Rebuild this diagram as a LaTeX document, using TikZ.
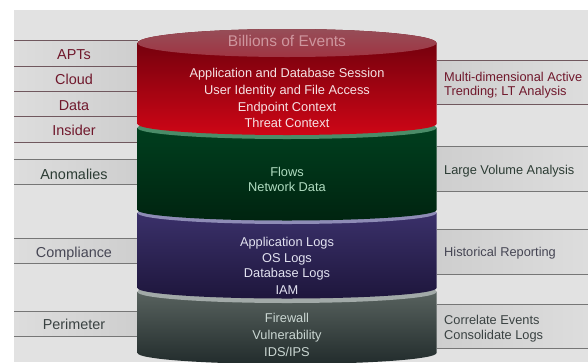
\documentclass[tikz,border=0pt]{standalone}
\usepackage{fontspec}
\setmainfont{Liberation Sans}
\definecolor{bgc}{RGB}{226,226,226}
\definecolor{bandin}{RGB}{206,206,206}
\definecolor{bandout}{RGB}{221,221,221}
\definecolor{linered}{RGB}{112,88,94}
\definecolor{linegray}{RGB}{118,118,118}
\definecolor{txtmaroon}{RGB}{112,24,44}
\definecolor{txtgreen}{RGB}{44,60,52}
\definecolor{txtslate}{RGB}{70,70,84}
\definecolor{txtdark}{RGB}{58,66,66}
\definecolor{redfaceA}{RGB}{150,78,88}
\definecolor{redfaceB}{RGB}{160,52,66}
\definecolor{redA}{RGB}{104,0,12}
\definecolor{redB}{RGB}{206,6,22}
\definecolor{greenA}{RGB}{0,66,32}
\definecolor{greenB}{RGB}{0,36,16}
\definecolor{greenrim}{RGB}{74,140,104}
\definecolor{purpA}{RGB}{62,52,112}
\definecolor{purpB}{RGB}{30,22,60}
\definecolor{purprim}{RGB}{142,140,182}
\definecolor{grayA}{RGB}{96,106,102}
\definecolor{grayB}{RGB}{34,44,44}
\definecolor{grayrim}{RGB}{162,170,168}
\definecolor{txtred}{RGB}{246,226,228}
\definecolor{txtbill}{RGB}{206,150,158}
\definecolor{txtgrn}{RGB}{176,220,192}
\definecolor{txtpur}{RGB}{226,226,240}
\definecolor{txtgry}{RGB}{202,214,210}
\newcommand\cylseg[6]{%
  \shade[top color=#5,bottom color=#6]
    (137.5,#1) -- (137.5,#2)
    arc[start angle=180,end angle=360,x radius=149.5pt,y radius=#4]
    -- (436.5,#1)
    arc[start angle=0,end angle=180,x radius=149.5pt,y radius=#3] -- cycle;}
\begin{document}
\begin{tikzpicture}[x=1pt,y=-1pt,
  lefttxt/.style={anchor=base,font=\fontsize{14.4}{16}\selectfont,inner sep=0pt},
  righttxt/.style={anchor=base west,font=\fontsize{12.8}{14}\selectfont,inner sep=0pt},
  cyltxt/.style={anchor=base,font=\fontsize{12.8}{15}\selectfont,inner sep=0pt},
  leftband/.style={left color=bandout,right color=bandin},
  rightband/.style={left color=bandin,right color=bandout},
  bandline/.style={draw=linegray,line width=0.9pt},
  bandlinered/.style={draw=linered,line width=0.9pt}]
\useasboundingbox (0,0) rectangle (588,362);
\fill[white] (0,0) rectangle (588,362);
\fill[bgc] (14,10) rectangle (588,362);
% left bands
\foreach \a/\b in {40/66,66/91,91/116,116/142,159/184,238/263,311/336}
  \shade[leftband] (14,\a) rectangle (137.5,\b);
\foreach \y in {40,66,91,116,142}
  \draw[bandlinered] (14,\y) -- (137.5,\y);
\foreach \y in {159,184,238,263,311,336}
  \draw[bandline] (14,\y) -- (137.5,\y);
% right bands
\foreach \a/\b in {60/104,146/191,229/274,304/348}
  \shade[rightband] (436.5,\a) rectangle (588,\b);
\foreach \y in {60,104}
  \draw[bandlinered] (436.5,\y) -- (588,\y);
\foreach \y in {146,191,229,274,304,348}
  \draw[bandline] (436.5,\y) -- (588,\y);
% cylinder, bottom segment first
\cylseg{292}{353}{11pt}{11pt}{grayA}{grayB}
\fill[grayrim] (287,292) ellipse[x radius=149.5pt,y radius=11pt];
\cylseg{213}{288}{11pt}{10.5pt}{purpA}{purpB}
\fill[purprim] (287,213) ellipse[x radius=149.5pt,y radius=11pt];
\cylseg{128}{210}{11pt}{10.5pt}{greenA}{greenB}
\fill[greenrim] (287,128) ellipse[x radius=149.5pt,y radius=11pt];
\cylseg{43}{124}{14pt}{11pt}{redA}{redB}
\shade[top color=redfaceA,bottom color=redfaceB] (287,43) ellipse[x radius=149.5pt,y radius=14pt];
% cylinder texts
\node[cyltxt,text=txtbill,font=\fontsize{15.5}{17}\selectfont] (bill) at (287,46.7) {Billions of Events};
\node[cyltxt,text=txtred] (r1) at (287,77.3) {Application and Database Session};
\node[cyltxt,text=txtred] (r2) at (287,94) {User Identity and File Access};
\node[cyltxt,text=txtred] (r3) at (287,111) {Endpoint Context};
\node[cyltxt,text=txtred] (r4) at (287,127.3) {Threat Context};
\node[cyltxt,text=txtgrn] (g1) at (287,176) {Flows};
\node[cyltxt,text=txtgrn] (g2) at (287,191.7) {Network Data};
\node[cyltxt,text=txtpur] (p1) at (287,246) {Application Logs};
\node[cyltxt,text=txtpur] (p2) at (287,262.7) {OS Logs};
\node[cyltxt,text=txtpur] (p3) at (287,277.7) {Database Logs};
\node[cyltxt,text=txtpur] (p4) at (287,294) {IAM};
\node[cyltxt,text=txtgry] (s1) at (287,322.7) {Firewall};
\node[cyltxt,text=txtgry] (s2) at (287,339.3) {Vulnerability};
\node[cyltxt,text=txtgry] (s3) at (287,356) {IDS/IPS};
% left labels
\node[lefttxt,text=txtmaroon] (apts) at (74,59.3) {APTs};
\node[lefttxt,text=txtmaroon] (cloud) at (74,84.3) {Cloud};
\node[lefttxt,text=txtmaroon] (data) at (74,110) {Data};
\node[lefttxt,text=txtmaroon] (insider) at (74,135) {Insider};
\node[lefttxt,text=txtgreen] (anom) at (74,179.3) {Anomalies};
\node[lefttxt,text=txtslate] (comp) at (74,257.3) {Compliance};
\node[lefttxt,text=txtdark] (perim) at (74,329.3) {Perimeter};
% right labels
\node[righttxt,text=txtmaroon] (m1) at (444,81) {Multi-dimensional Active};
\node[righttxt,text=txtmaroon] (m2) at (444,95) {Trending; LT Analysis};
\node[righttxt,text=txtgreen] (lv) at (444,174.3) {Large Volume Analysis};
\node[righttxt,text=txtslate] (hist) at (444,256.7) {Historical Reporting};
\node[righttxt,text=txtdark] (c1) at (444,324.3) {Correlate Events};
\node[righttxt,text=txtdark] (c2) at (444,339.3) {Consolidate Logs};
\end{tikzpicture}
\end{document}
